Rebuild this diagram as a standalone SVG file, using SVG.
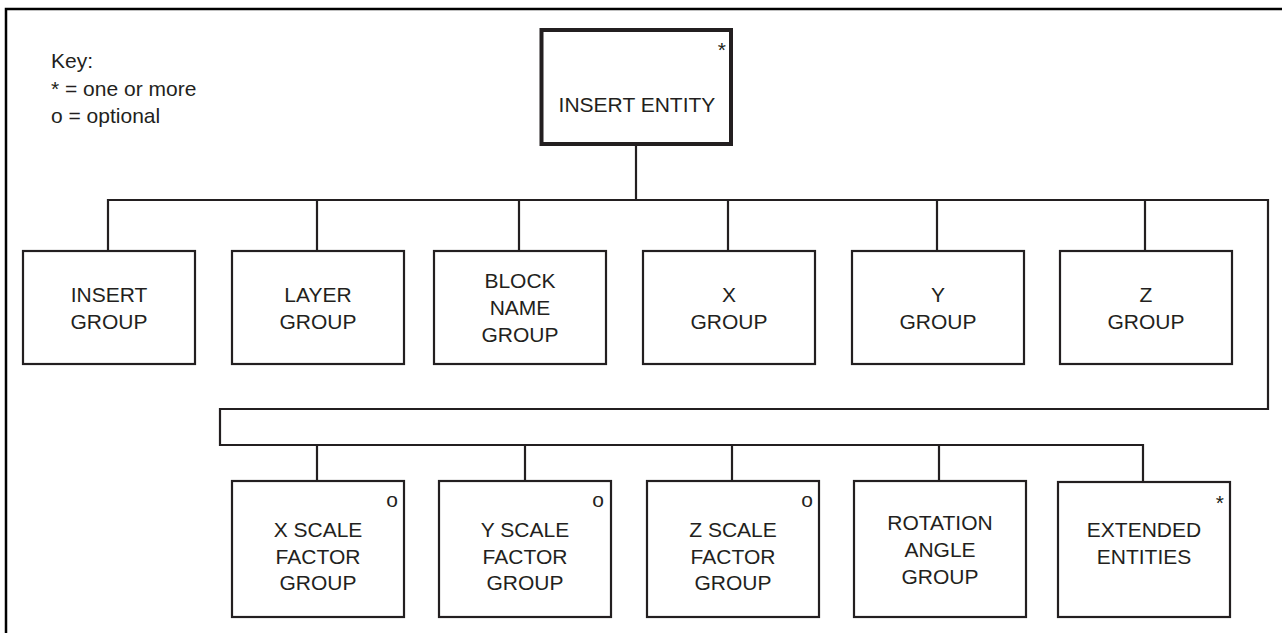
<svg xmlns="http://www.w3.org/2000/svg" width="1282" height="633" viewBox="0 0 1282 633">
<style>
.t{font-family:"Liberation Sans",Arial,sans-serif;font-size:21px;fill:#231f20}
.c{text-anchor:middle}
.e{text-anchor:end}
.box{fill:#fff;stroke:#231f20;stroke-width:2.2}
.main{fill:#fff;stroke:#231f20;stroke-width:4}
.ln{fill:none;stroke:#231f20;stroke-width:2.2}
</style>
<rect width="1282" height="633" fill="#fff"/>
<path d="M6,633 V9 H1282" fill="none" stroke="#000" stroke-width="2.5"/>
<g id="key">
<text class="t" x="51" y="68">Key:</text>
<text class="t" x="51" y="95.5">* = one or more</text>
<text class="t" x="51" y="123">o = optional</text>
</g>
<g id="connectors">
<path class="ln" d="M636,146 V200"/>
<path class="ln" d="M108,250 V200 H1268 V409 H220 V445 H1143 V481"/>
<path class="ln" d="M317,200 V251 M519,200 V251 M728,200 V251 M937,200 V251 M1145,200 V251"/>
<path class="ln" d="M317,445 V481 M525,445 V481 M732,445 V481 M939,445 V481"/>
</g>
<g id="insert-entity">
<rect class="main" x="541.5" y="30" width="189.5" height="114"/>
<text class="t e" x="726" y="57">*</text>
<text class="t c" x="637" y="112">INSERT ENTITY</text>
</g>
<g id="insert-group">
<rect class="box" x="23" y="251" width="172" height="113"/>
<text class="t c" x="109" y="302">INSERT</text>
<text class="t c" x="109" y="329">GROUP</text>
</g>
<g id="layer-group">
<rect class="box" x="232" y="251" width="172" height="113"/>
<text class="t c" x="318" y="302">LAYER</text>
<text class="t c" x="318" y="329">GROUP</text>
</g>
<g id="block-name-group">
<rect class="box" x="434" y="251" width="172" height="113"/>
<text class="t c" x="520" y="288">BLOCK</text>
<text class="t c" x="520" y="315">NAME</text>
<text class="t c" x="520" y="342">GROUP</text>
</g>
<g id="x-group">
<rect class="box" x="643" y="251" width="172" height="113"/>
<text class="t c" x="729" y="302">X</text>
<text class="t c" x="729" y="329">GROUP</text>
</g>
<g id="y-group">
<rect class="box" x="852" y="251" width="172" height="113"/>
<text class="t c" x="938" y="302">Y</text>
<text class="t c" x="938" y="329">GROUP</text>
</g>
<g id="z-group">
<rect class="box" x="1060" y="251" width="172" height="113"/>
<text class="t c" x="1146" y="302">Z</text>
<text class="t c" x="1146" y="329">GROUP</text>
</g>
<g id="x-scale-factor-group">
<rect class="box" x="232" y="481" width="172" height="136"/>
<text class="t e" x="398" y="507">o</text>
<text class="t c" x="318" y="537">X SCALE</text>
<text class="t c" x="318" y="563.5">FACTOR</text>
<text class="t c" x="318" y="590">GROUP</text>
</g>
<g id="y-scale-factor-group">
<rect class="box" x="439" y="481" width="172" height="136"/>
<text class="t e" x="604" y="507">o</text>
<text class="t c" x="525" y="537">Y SCALE</text>
<text class="t c" x="525" y="563.5">FACTOR</text>
<text class="t c" x="525" y="590">GROUP</text>
</g>
<g id="z-scale-factor-group">
<rect class="box" x="647" y="481" width="172" height="136"/>
<text class="t e" x="813" y="507">o</text>
<text class="t c" x="733" y="537">Z SCALE</text>
<text class="t c" x="733" y="563.5">FACTOR</text>
<text class="t c" x="733" y="590">GROUP</text>
</g>
<g id="rotation-angle-group">
<rect class="box" x="854" y="481" width="172" height="136"/>
<text class="t c" x="940" y="530">ROTATION</text>
<text class="t c" x="940" y="557">ANGLE</text>
<text class="t c" x="940" y="584">GROUP</text>
</g>
<g id="extended-entities">
<rect class="box" x="1058" y="482" width="172" height="135"/>
<text class="t e" x="1224" y="510">*</text>
<text class="t c" x="1144" y="537">EXTENDED</text>
<text class="t c" x="1144" y="563.5">ENTITIES</text>
</g>
</svg>
